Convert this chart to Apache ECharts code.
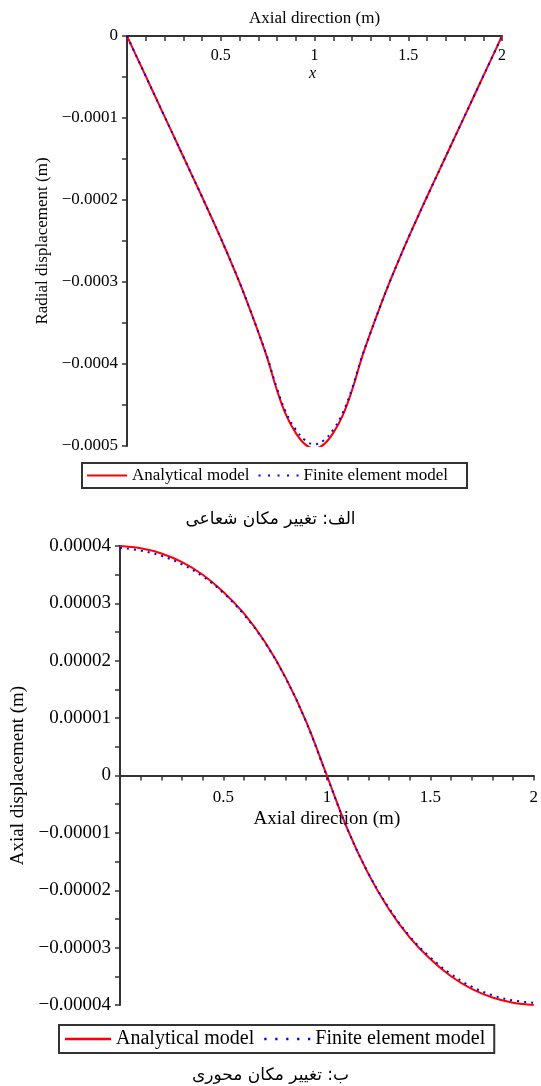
<!DOCTYPE html>
<html>
<head>
<meta charset="utf-8">
<script src="https://cdn.jsdelivr.net/npm/echarts@6/dist/echarts.min.js"></script>
<style>
html,body{margin:0;padding:0;background:#fff;}
#c{width:541px;height:1086px;}
</style>
</head>
<body>
<div id="c"></div>
<script>
// ---------- data ----------
var seriesNames = ['Analytical model', 'Finite element model'];

// (a) radial displacement, x = axial position (m)
var radialX = [0,0.05,0.1,0.15,0.2,0.25,0.3,0.35,0.4,0.45,0.5,0.55,0.6,0.65,0.7,0.75,0.8,0.85,0.9,0.95,1.0,
               1.05,1.1,1.15,1.2,1.25,1.3,1.35,1.4,1.45,1.5,1.55,1.6,1.65,1.7,1.75,1.8,1.85,1.9,1.95,2.0];
var radialAnalytical = [0,-0.0000245,-0.000049,-0.0000735,-0.000098,-0.0001225,-0.000147,-0.0001715,-0.000196,-0.000221,
  -0.0002465,-0.000273,-0.0003005,-0.00033,-0.000361,-0.000394,-0.000432,-0.000463,-0.000484,-0.000498,-0.000503,
  -0.000498,-0.000484,-0.000463,-0.000432,-0.000394,-0.000361,-0.00033,-0.0003005,-0.000273,-0.0002465,
  -0.000221,-0.000196,-0.0001715,-0.000147,-0.0001225,-0.000098,-0.0000735,-0.000049,-0.0000245,0];
var radialFE = [0,-0.0000245,-0.000049,-0.0000735,-0.000098,-0.0001225,-0.000147,-0.0001715,-0.000196,-0.000221,
  -0.0002465,-0.000273,-0.0003005,-0.00033,-0.000361,-0.000393,-0.00043,-0.00046,-0.00048,-0.000493,-0.000498,
  -0.000493,-0.00048,-0.00046,-0.00043,-0.000393,-0.000361,-0.00033,-0.0003005,-0.000273,-0.0002465,
  -0.000221,-0.000196,-0.0001715,-0.000147,-0.0001225,-0.000098,-0.0000735,-0.000049,-0.0000245,0];

// (b) axial displacement
var axialX = [0,0.1,0.2,0.3,0.4,0.5,0.6,0.7,0.8,0.9,1.0,1.1,1.2,1.3,1.4,1.5,1.6,1.7,1.8,1.9,2.0];
var axialAnalytical = [0.00004,0.0000396,0.0000387,0.0000372,0.000035,0.000032,0.0000282,0.0000233,0.0000171,0.0000094,0,
  -0.0000094,-0.0000171,-0.0000233,-0.0000282,-0.000032,-0.000035,-0.0000372,-0.0000387,-0.0000396,-0.00004];
var axialFE = [0.0000397,0.0000392,0.0000383,0.0000368,0.0000347,0.0000318,0.000028,0.0000232,0.000017,0.0000093,-0.0000001,
  -0.0000094,-0.000017,-0.0000231,-0.000028,-0.0000317,-0.0000346,-0.0000368,-0.0000383,-0.0000392,-0.0000396];

var xTicks = [0.5, 1, 1.5, 2];
var captionA = 'الف: تغییر مکان شعاعی';
var captionB = 'ب: تغییر مکان محوری';

// ---------- helpers ----------
function pairs(xs, ys){ return xs.map(function(x,i){ return [x, ys[i]]; }); }
var SERIF = '"Liberation Serif","Times New Roman",serif';
var AX = '#333';
var DOTS = 'path://M0,0h2v2h-2zM9.5,0h2v2h-2zM19,0h2v2h-2zM28.5,0h2v2h-2zM38,0h2v2h-2z';

function xLabel(v){
  for (var i=0;i<xTicks.length;i++){ if (Math.abs(v-xTicks[i])<1e-9) return String(xTicks[i]); }
  return '';
}
function fmt(v, d){
  if (Math.abs(v) < 1e-12) return '0';
  return (v < 0 ? '\u2212' : '') + Math.abs(v).toFixed(d);
}
function legendData(){
  return [
    {name: seriesNames[0], icon: 'rect', itemStyle: {color: '#ff0000', borderWidth: 0}},
    {name: seriesNames[1], icon: DOTS, itemStyle: {color: '#0000ff', borderWidth: 0}}
  ];
}

var chart = echarts.init(document.getElementById('c'), null, {renderer:'canvas'});

var option = {
  backgroundColor: '#fff',
  animation: false,
  grid: [
    {left: 127, top: 36, width: 375, height: 410, containLabel: false},
    {left: 120, top: 546, width: 416, height: 459, containLabel: false}
  ],
  xAxis: [
    {
      type: 'value', gridIndex: 0, min: 0, max: 2, interval: 0.5, position: 'top',
      axisLine: {onZero: false, lineStyle: {color: AX, width: 2}},
      axisTick: {inside: true, length: 5, lineStyle: {color: AX, width: 1.5}},
      minorTick: {show: true, splitNumber: 5, length: 5, lineStyle: {color: AX, width: 1.5}},
      splitLine: {show: false},
      axisLabel: {inside: true, margin: 12, formatter: xLabel, color: '#000', fontFamily: SERIF, fontSize: 16},
      name: 'Axial direction (m)', nameLocation: 'middle', nameGap: 9,
      nameTextStyle: {color: '#000', fontFamily: SERIF, fontSize: 17}
    },
    {
      type: 'value', gridIndex: 1, min: 0, max: 2, interval: 0.5, position: 'bottom', offset: -229.5,
      axisLine: {onZero: false, lineStyle: {color: AX, width: 2}},
      axisTick: {length: 5, lineStyle: {color: AX, width: 1.5}},
      minorTick: {show: true, splitNumber: 5, length: 5, lineStyle: {color: AX, width: 1.5}},
      splitLine: {show: false},
      axisLabel: {margin: 14, formatter: xLabel, color: '#000', fontFamily: SERIF, fontSize: 17},
      name: 'Axial direction (m)', nameLocation: 'middle', nameGap: 34,
      nameTextStyle: {color: '#000', fontFamily: SERIF, fontSize: 19}
    }
  ],
  yAxis: [
    {
      type: 'value', gridIndex: 0, min: -0.0005, max: 0, interval: 0.0001,
      axisLine: {lineStyle: {color: AX, width: 2}},
      axisTick: {length: 5, lineStyle: {color: AX, width: 1.5}},
      minorTick: {show: true, splitNumber: 2, length: 5, lineStyle: {color: AX, width: 1.5}},
      splitLine: {show: false},
      axisLabel: {margin: 9, formatter: function(v){ return fmt(v,4); }, color: '#000', fontFamily: SERIF, fontSize: 17},
      name: 'Radial displacement (m)', nameLocation: 'middle', nameGap: 69, nameRotate: 90,
      nameTextStyle: {color: '#000', fontFamily: SERIF, fontSize: 17}
    },
    {
      type: 'value', gridIndex: 1, min: -0.00004, max: 0.00004, interval: 0.00001,
      axisLine: {lineStyle: {color: AX, width: 2}},
      axisTick: {length: 5, lineStyle: {color: AX, width: 1.5}},
      minorTick: {show: true, splitNumber: 2, length: 5, lineStyle: {color: AX, width: 1.5}},
      splitLine: {show: false},
      axisLabel: {margin: 9, formatter: function(v){ return fmt(v,5); }, color: '#000', fontFamily: SERIF, fontSize: 19},
      name: 'Axial displacement (m)', nameLocation: 'middle', nameGap: 92, nameRotate: 90,
      nameTextStyle: {color: '#000', fontFamily: SERIF, fontSize: 19}
    }
  ],
  legend: [
    {
      data: legendData(), left: 82, top: 463, orient: 'horizontal',
      itemWidth: 40, itemHeight: 2, itemGap: 9,
      padding: [4, 19, 4, 5],
      borderColor: '#333', borderWidth: 2, selectedMode: false,
      textStyle: {color: '#000', fontFamily: SERIF, fontSize: 17, lineHeight: 17}
    },
    {
      data: legendData(), left: 59, top: 1025, orient: 'horizontal',
      itemWidth: 46, itemHeight: 2.5, itemGap: 10,
      padding: [4, 9, 4, 6],
      borderColor: '#333', borderWidth: 2, selectedMode: false,
      textStyle: {color: '#000', fontFamily: SERIF, fontSize: 20, lineHeight: 19}
    }
  ],
  graphic: [
    {type: 'text', left: 309, top: 66, style: {text: 'x', font: 'italic 16px ' + SERIF, fill: '#000'}},
    {type: 'text', left: 'center', top: 511, style: {text: captionA, font: '17px "DejaVu Sans", sans-serif', fill: '#000'}},
    {type: 'text', left: 'center', top: 1067, style: {text: captionB, font: '17px "DejaVu Sans", sans-serif', fill: '#000'}}
  ],
  series: [
    {name: seriesNames[0], type: 'line', xAxisIndex: 0, yAxisIndex: 0, data: pairs(radialX, radialAnalytical),
     smooth: 0.4, symbol: 'none', lineStyle: {color: '#ff0000', width: 2}, itemStyle: {color: '#ff0000'}, z: 2},
    {name: seriesNames[1], type: 'line', xAxisIndex: 0, yAxisIndex: 0, data: pairs(radialX, radialFE),
     smooth: 0.4, symbol: 'none', lineStyle: {color: '#0000ff', width: 2, type: [2, 5]}, itemStyle: {color: '#0000ff'}, z: 3},
    {name: seriesNames[0], type: 'line', xAxisIndex: 1, yAxisIndex: 1, data: pairs(axialX, axialAnalytical),
     smooth: 0.4, symbol: 'none', lineStyle: {color: '#ff0000', width: 2}, itemStyle: {color: '#ff0000'}, z: 2},
    {name: seriesNames[1], type: 'line', xAxisIndex: 1, yAxisIndex: 1, data: pairs(axialX, axialFE),
     smooth: 0.4, symbol: 'none', lineStyle: {color: '#0000ff', width: 2, type: [2, 5]}, itemStyle: {color: '#0000ff'}, z: 3}
  ]
};
chart.setOption(option);
</script>
</body>
</html>
